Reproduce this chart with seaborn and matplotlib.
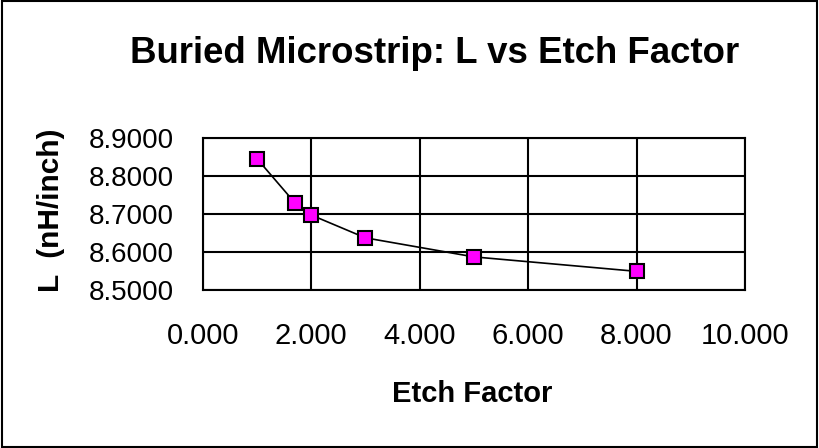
import matplotlib
matplotlib.use("Agg")
import matplotlib.pyplot as plt
import seaborn as sns
import pandas as pd
from matplotlib.ticker import FormatStrFormatter, MultipleLocator
from matplotlib.patches import Rectangle

etch_factor = [1.0, 1.7, 2.0, 3.0, 5.0, 8.0]
inductance = [8.845, 8.729, 8.697, 8.637, 8.587, 8.549]

sns.set_style("white")
plt.rcParams['font.family'] = ['Liberation Sans', 'DejaVu Sans']
plt.rcParams['text.color'] = 'black'

df = pd.DataFrame({"Etch Factor": etch_factor, "L": inductance})

W, H = 819, 448
fig = plt.figure(figsize=(W / 100, H / 100), dpi=100)
ax = fig.add_axes([202.7 / W, 1 - 290 / H, (745 - 202.7) / W, (290 - 137.7) / H])

sns.lineplot(data=df, x="Etch Factor", y="L", ax=ax, color="black", linewidth=1.2,
             marker="s", markersize=10, markerfacecolor="#FF00FF",
             markeredgecolor="black", markeredgewidth=1.5, zorder=5)

ax.set_xlim(0, 10)
ax.set_ylim(8.5, 8.9)
ax.xaxis.set_major_locator(MultipleLocator(2))
ax.yaxis.set_major_locator(MultipleLocator(0.1))
ax.xaxis.set_major_formatter(FormatStrFormatter("%.3f"))
ax.yaxis.set_major_formatter(FormatStrFormatter("%.4f"))
ax.grid(True, color="black", linewidth=1.5)
ax.set_axisbelow(True)
for s in ax.spines.values():
    s.set_color("black")
    s.set_linewidth(1.5)
ax.tick_params(axis="both", direction="out", length=8, width=1.5, color="black",
               labelcolor="black")
ax.tick_params(axis="x", pad=15, labelsize=21)
ax.tick_params(axis="y", pad=13, labelsize=20)
ax.set_xlabel("")
ax.set_ylabel("")

fig.text(472 / W, 1 - 401.7 / H, "Etch Factor", fontsize=21, fontweight="bold",
         ha="center", va="baseline", color="black")
fig.text(51 / W, 1 - 210.5 / H, "L  (nH/inch)", fontsize=21.5, fontweight="bold",
         ha="center", va="center", rotation=90, color="black")
fig.text(434.6 / W, 1 - 63 / H, "Buried Microstrip: L vs Etch Factor", fontsize=26.4,
         fontweight="bold", ha="center", va="baseline", color="black")

fig.patches.append(Rectangle((0.002, 0.003), 0.995, 0.994, transform=fig.transFigure,
                             fill=False, edgecolor="black", linewidth=1.5))

fig.savefig("out.png", dpi=100)
